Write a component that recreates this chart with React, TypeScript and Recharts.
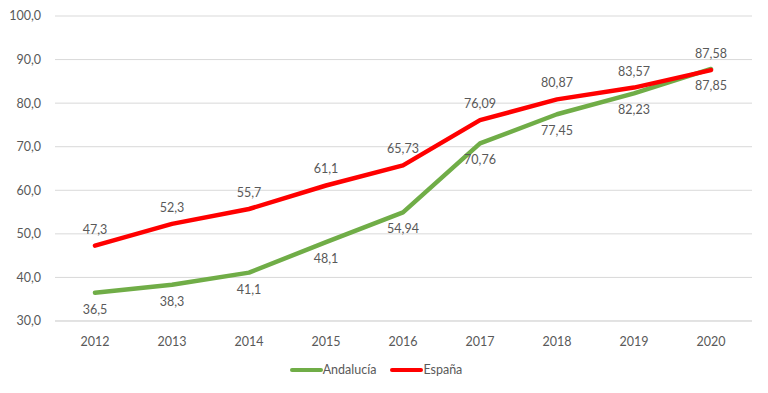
import { LineChart, Line, XAxis, YAxis, CartesianGrid, LabelList, Legend } from 'recharts'

const years = ['2012', '2013', '2014', '2015', '2016', '2017', '2018', '2019', '2020']
const andalucia = [36.5, 38.3, 41.1, 48.1, 54.94, 70.76, 77.45, 82.23, 87.85]
const espana = [47.3, 52.3, 55.7, 61.1, 65.73, 76.09, 80.87, 83.57, 87.58]
const yTicks = [30, 40, 50, 60, 70, 80, 90, 100]

const GREEN = '#70ad47'
const RED = '#ff0000'
const TEXT = '#595959'

const chartData = years.map((y, i) => ({ year: y, andalucia: andalucia[i], espana: espana[i] }))

const fmt = (v: number | string) => String(v).replace('.', ',')

function CustomLegend() {
  const items = [
    { name: 'Andalucía', color: GREEN },
    { name: 'España', color: RED },
  ]
  return (
    <div style={{ display: 'flex', justifyContent: 'center', gap: 14, fontSize: 12.5, color: TEXT, paddingTop: 11 }}>
      {items.map((it) => (
        <span key={it.name} style={{ display: 'flex', alignItems: 'center' }}>
          <span style={{ display: 'inline-block', width: 33, height: 4, borderRadius: 2, background: it.color }} />
          <span>{it.name}</span>
        </span>
      ))}
    </div>
  )
}

export default function App() {
  return (
    <div style={{ position: 'absolute', left: 0, top: 0, fontFamily: 'Lato, "Open Sans", "Liberation Sans", sans-serif' }}>
      <LineChart width={768} height={393} data={chartData} margin={{ top: 16, right: 16, left: 0, bottom: 0 }}>
        <CartesianGrid vertical={false} stroke="#d9d9d9" />
        <XAxis
          dataKey="year"
          tick={{ fontSize: 12.5, fill: TEXT }}
          tickLine={false}
          axisLine={{ stroke: '#d9d9d9' }}
          tickMargin={10}
          height={30}
          padding={{ left: 40, right: 41 }}
        />
        <YAxis
          domain={[30, 100]}
          ticks={yTicks}
          tick={{ fontSize: 12.5, fill: TEXT }}
          tickLine={false}
          axisLine={false}
          tickMargin={8}
          width={55}
          tickFormatter={(v) => v.toFixed(1).replace('.', ',')}
        />
        <Legend verticalAlign="bottom" height={42} content={<CustomLegend />} />
        <Line type="linear" dataKey="andalucia" name="Andalucía" stroke={GREEN} strokeWidth={4.5} strokeLinejoin="round" strokeLinecap="round" dot={false} isAnimationActive={false}>
          <LabelList dataKey="andalucia" position="bottom" offset={12} formatter={fmt} style={{ fontSize: 12.5, fill: TEXT }} />
        </Line>
        <Line type="linear" dataKey="espana" name="España" stroke={RED} strokeWidth={4.5} strokeLinejoin="round" strokeLinecap="round" dot={false} isAnimationActive={false}>
          <LabelList dataKey="espana" position="top" offset={12} formatter={fmt} style={{ fontSize: 12.5, fill: TEXT }} />
        </Line>
      </LineChart>
    </div>
  )
}
